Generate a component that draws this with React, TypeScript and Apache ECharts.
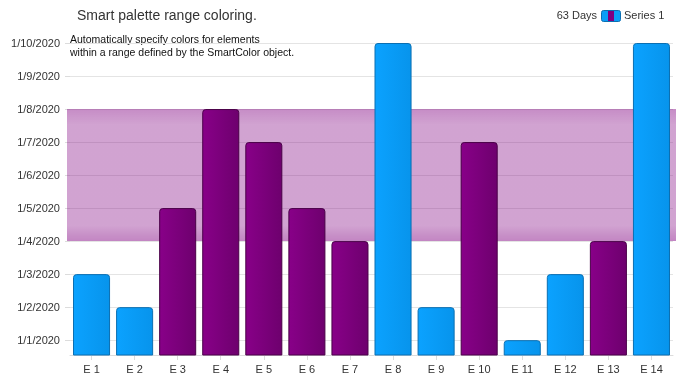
import React, { useEffect, useRef } from "react";
import * as echarts from "echarts";

const categories = ["E 1", "E 2", "E 3", "E 4", "E 5", "E 6", "E 7", "E 8", "E 9", "E 10", "E 11", "E 12", "E 13", "E 14"];
const values = [
  "1/3/2020", "1/2/2020", "1/5/2020", "1/8/2020", "1/7/2020", "1/5/2020", "1/4/2020",
  "1/10/2020", "1/2/2020", "1/7/2020", "1/1/2020", "1/3/2020", "1/4/2020", "1/10/2020",
];
const rangeStart = "1/4/2020";
const rangeEnd = "1/8/2020";
const axisMinDate = "12/31/2019";
const axisMaxDate = "1/10/2020";
const titleText = "Smart palette range coloring.";
const subtitleLines = ["Automatically specify colors for elements", "within a range defined by the SmartColor object."];
const legendTotal = "63 Days";
const seriesName = "Series 1";

// day number relative to 12/31/2019 (1/1/2020 -> 1)
const toDay = (s: string) => {
  const [m, d, y] = s.split("/").map(Number);
  return (Date.UTC(y, m - 1, d) - Date.UTC(2019, 11, 31)) / 86400000;
};
const fromDay = (v: number) => {
  const t = new Date(Date.UTC(2019, 11, 31) + Math.round(v) * 86400000);
  return `${t.getUTCMonth() + 1}/${t.getUTCDate()}/${t.getUTCFullYear()}`;
};

const FONT = "'Liberation Sans', Arial, sans-serif";

const blueFill = new echarts.graphic.LinearGradient(0, 0, 1, 0, [
  { offset: 0, color: "#0ba2ff" },
  { offset: 1, color: "#0794ec" },
]);
const purpleFill = new echarts.graphic.LinearGradient(0, 0, 1, 0, [
  { offset: 0, color: "#880088" },
  { offset: 1, color: "#6e006e" },
]);

export default function App() {
  const ref = useRef<HTMLDivElement>(null);
  useEffect(() => {
    if (!ref.current) return;
    document.body.style.margin = "0";
    const chart = echarts.init(ref.current, undefined, { renderer: "svg" });
    const lo = toDay(rangeStart);
    const hi = toDay(rangeEnd);
    const data = values.map((s) => {
      const v = toDay(s);
      const inRange = v >= lo && v <= hi;
      return {
        value: v,
        itemStyle: {
          color: inRange ? purpleFill : blueFill,
          borderColor: inRange ? "#4a0048" : "#0b6fb2",
        },
      };
    });
    chart.setOption({
      animation: false,
      textStyle: { fontFamily: FONT },
      grid: { left: 70, right: 12, top: 43, bottom: 26, containLabel: false },
      xAxis: {
        type: "category",
        data: categories,
        axisLine: { show: true, lineStyle: { color: "#dcdcdc" } },
        axisTick: { show: true, alignWithLabel: true, length: 5, lineStyle: { color: "#dcdcdc" } },
        axisLabel: { color: "#333", fontSize: 11, margin: 8, fontFamily: FONT },
      },
      yAxis: {
        type: "value",
        min: toDay(axisMinDate) + 0.55,
        max: toDay(axisMaxDate),
        splitNumber: 10,
        minInterval: 1,
        maxInterval: 1,
        axisLine: { show: false },
        axisTick: { show: true, length: 5, lineStyle: { color: "#dcdcdc" } },
        axisLabel: {
          color: "#333",
          fontSize: 11,
          margin: 10,
          fontFamily: FONT,
          showMinLabel: false,
          formatter: (v: number) => (Math.abs(v - Math.round(v)) < 1e-6 ? fromDay(v) : ""),
        },
        splitLine: { show: true, lineStyle: { color: "#e4e4e4" } },
      },
      series: [
        {
          type: "bar",
          name: seriesName,
          data,
          barCategoryGap: "14%",
          clip: true,
          z: 2,
          itemStyle: { borderWidth: 1, borderRadius: [3, 3, 0, 0] },
          markArea: {
            silent: true,
            z: 1,
            itemStyle: {
              color: new echarts.graphic.LinearGradient(0, 0, 0, 1, [
                { offset: 0, color: "rgba(128,0,128,0.45)" },
                { offset: 0.12, color: "rgba(128,0,128,0.36)" },
                { offset: 0.88, color: "rgba(128,0,128,0.36)" },
                { offset: 1, color: "rgba(128,0,128,0.48)" },
              ]),
            },
            data: [[{ x: 67, yAxis: lo }, { x: 676, yAxis: hi }]],
          },
        },
      ],
      graphic: [
        {
          type: "text",
          left: 77,
          top: 8,
          style: { text: titleText, fontSize: 14, fill: "#333", fontFamily: FONT },
        },
        {
          type: "text",
          left: 70,
          top: 32,
          style: { text: subtitleLines.join("\n"), fontSize: 10.5, lineHeight: 13, fill: "#111", fontFamily: FONT },
        },
        {
          type: "text",
          right: 88,
          top: 9,
          style: { text: legendTotal, fontSize: 11, fill: "#333", fontFamily: FONT, align: "right" },
        },
        {
          type: "group",
          left: 601,
          top: 10,
          children: [
            { type: "rect", shape: { x: 0, y: 0, width: 19, height: 11, r: 2 }, style: { fill: "#0a9ef7", stroke: "#0b6fb2", lineWidth: 1 } },
            { type: "rect", shape: { x: 6.5, y: 0.5, width: 6, height: 10 }, style: { fill: "#800080" } },
          ],
        },
        {
          type: "text",
          left: 624,
          top: 9,
          style: { text: seriesName, fontSize: 11, fill: "#333", fontFamily: FONT },
        },
      ],
    });
    return () => chart.dispose();
  }, []);
  return <div ref={ref} style={{ width: 685, height: 381, position: "fixed", left: 0, top: 0 }} />;
}
